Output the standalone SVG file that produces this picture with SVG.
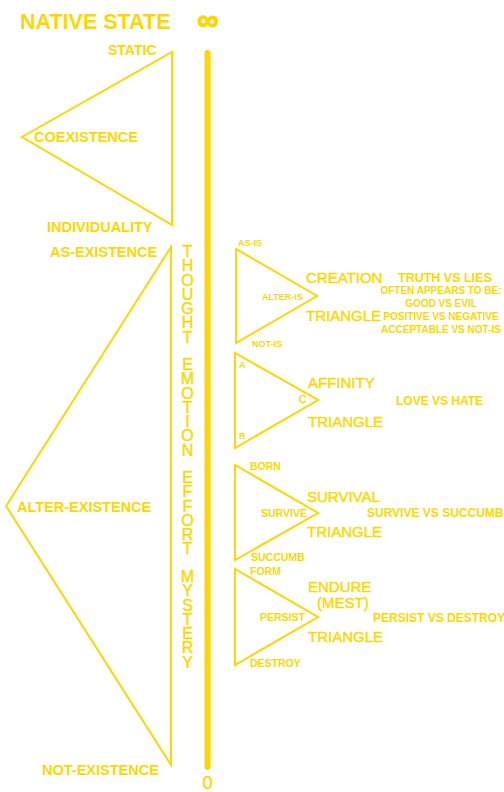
<svg xmlns="http://www.w3.org/2000/svg" width="504" height="792" viewBox="0 0 504 792">
<style>
.bg{fill:#ffffff}
.ln{fill:none;stroke:#FFD700;stroke-width:2;stroke-linejoin:miter}
.t{fill:#FFD700;font-family:"Liberation Sans",Arial,sans-serif}
.b{font-weight:bold}
.r{stroke:#FFD700;stroke-width:0.45px}
.big{font-size:14.5px;font-weight:bold}
.mid{font-size:15px}
.ph{font-size:12px;font-weight:bold}
.sm{font-size:10.5px;font-weight:bold}
.xs{font-size:9px;font-weight:bold}
.vt{font-size:16px;writing-mode:vertical-rl;text-orientation:upright;letter-spacing:-2.74px}
</style>
<rect class="bg" x="0" y="0" width="504" height="792"/>

<g id="header">
<text class="t b" x="20" y="29" style="font-size:21.5px">NATIVE STATE</text>
<text class="t b" x="208" y="30" style="font-size:30px;stroke:#FFD700;stroke-width:1.2px" text-anchor="middle">∞</text>
</g>

<g id="scale">
<line x1="207.5" y1="53" x2="207.5" y2="767" stroke="#FFD700" stroke-width="6" stroke-linecap="round"/>
<text class="t r" x="207.5" y="789" style="font-size:18px" text-anchor="middle">0</text>
</g>

<g id="native-triangle">
<polygon class="ln" points="172,52 172,225 22,137"/>
<text class="t b" x="108" y="55" style="font-size:14px">STATIC</text>
<text class="t big" x="34" y="142">COEXISTENCE</text>
<text class="t big" x="47" y="232">INDIVIDUALITY</text>
</g>

<g id="existence-triangle">
<polygon class="ln" points="171,247 171,765 6,506"/>
<text class="t big" x="50" y="257">AS-EXISTENCE</text>
<text class="t big" x="17" y="512">ALTER-EXISTENCE</text>
<text class="t big" x="42" y="775">NOT-EXISTENCE</text>
</g>

<g id="scale-labels">
<text class="t r vt" x="187.5" y="243">THOUGHT</text>
<text class="t r vt" x="187.5" y="356">EMOTION</text>
<text class="t r vt" x="187.5" y="469">EFFORT</text>
<text class="t r vt" x="187.5" y="568">MYSTERY</text>
</g>

<g id="creation-triangle">
<polygon class="ln" points="236,249 236,343 317,296"/>
<text class="t xs" x="238" y="246">AS-IS</text>
<text class="t xs" x="262" y="300">ALTER-IS</text>
<text class="t xs" x="252" y="347">NOT-IS</text>
<text class="t r mid" x="306" y="283">CREATION</text>
<text class="t r mid" x="306" y="321">TRIANGLE</text>
<text class="t ph" x="398" y="282" style="font-size:12.5px">TRUTH VS LIES</text>
<text class="t b" x="441" y="294" style="font-size:10px" text-anchor="middle">OFTEN APPEARS TO BE:</text>
<text class="t b" x="441" y="307" style="font-size:10px" text-anchor="middle">GOOD VS EVIL</text>
<text class="t b" x="441" y="320" style="font-size:10px" text-anchor="middle">POSITIVE VS NEGATIVE</text>
<text class="t b" x="441" y="333" style="font-size:10px" text-anchor="middle">ACCEPTABLE VS NOT-IS</text>
</g>

<g id="affinity-triangle">
<polygon class="ln" points="235,353 235,448 318,400"/>
<text class="t xs" x="239" y="368">A</text>
<text class="t r" x="299" y="403" style="font-size:10px">C</text>
<text class="t xs" x="239" y="439">R</text>
<text class="t r mid" x="308" y="388">AFFINITY</text>
<text class="t r mid" x="308" y="427">TRIANGLE</text>
<text class="t ph" x="396" y="405">LOVE VS HATE</text>
</g>

<g id="survival-triangle">
<polygon class="ln" points="235,465 235,560 318,513"/>
<text class="t sm" x="250" y="470">BORN</text>
<text class="t sm" x="261" y="517">SURVIVE</text>
<text class="t sm" x="251" y="561">SUCCUMB</text>
<text class="t r mid" x="307" y="502">SURVIVAL</text>
<text class="t r mid" x="307" y="537">TRIANGLE</text>
<text class="t ph" x="367" y="517">SURVIVE VS SUCCUMB</text>
</g>

<g id="endure-triangle">
<polygon class="ln" points="235,569 235,665 318,617"/>
<text class="t sm" x="250" y="575">FORM</text>
<text class="t sm" x="260" y="621">PERSIST</text>
<text class="t sm" x="250" y="667">DESTROY</text>
<text class="t r mid" x="308" y="592">ENDURE</text>
<text class="t r mid" x="317" y="608">(MEST)</text>
<text class="t r mid" x="308" y="642">TRIANGLE</text>
<text class="t ph" x="373" y="622">PERSIST VS DESTROY</text>
</g>
</svg>
